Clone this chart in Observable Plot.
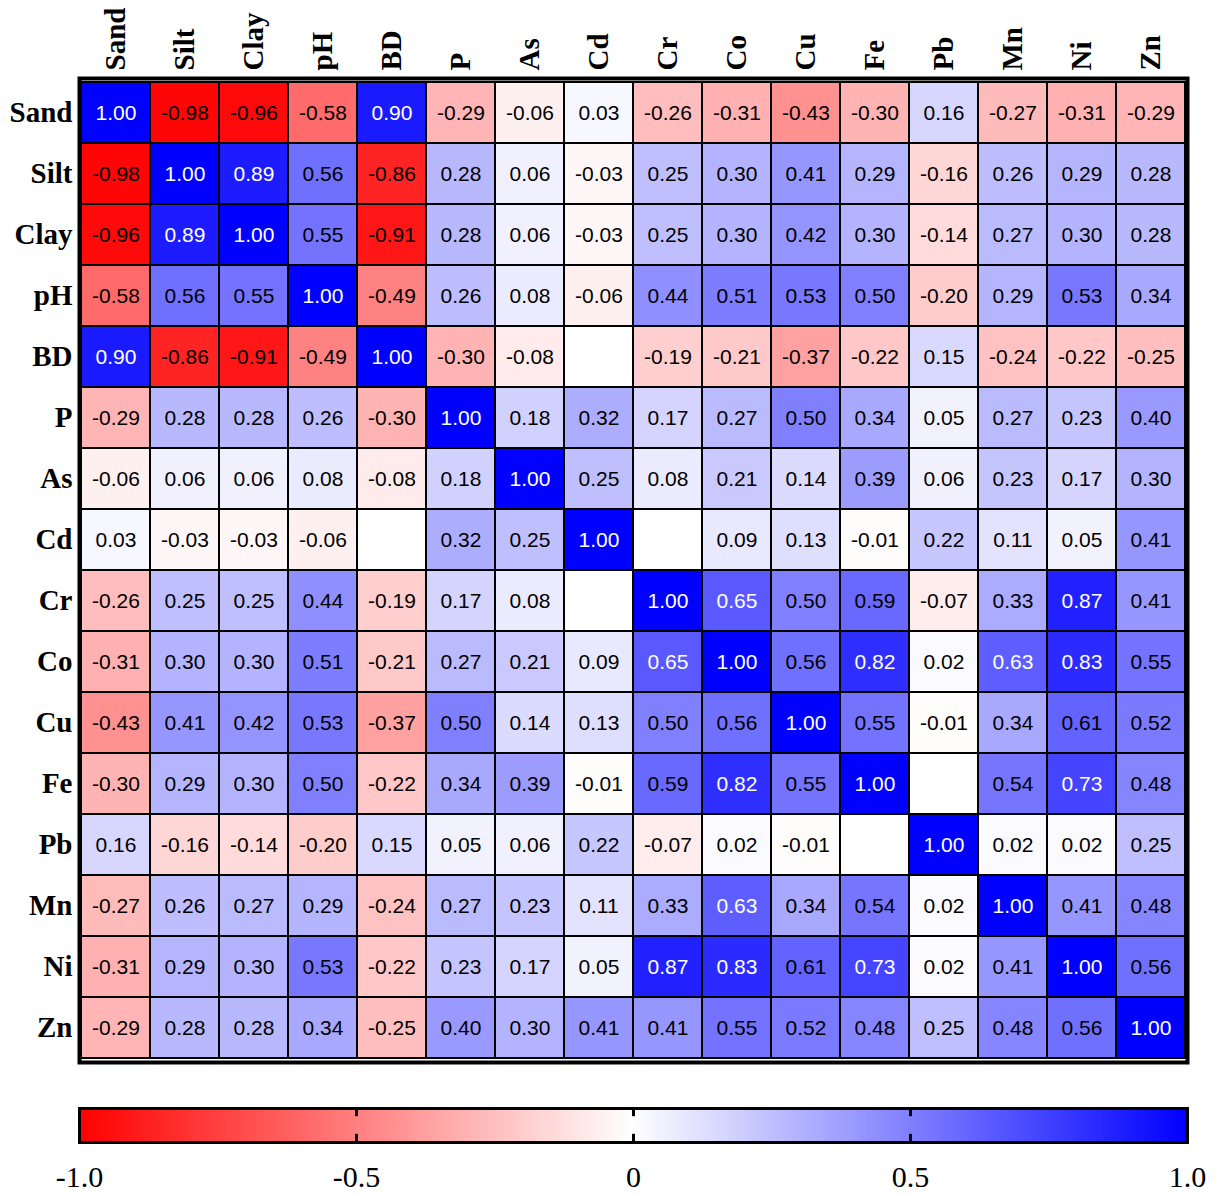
<!DOCTYPE html>
<html>
<head>
<meta charset="utf-8">
<script src="https://cdn.jsdelivr.net/npm/d3@7"></script>
<script src="https://cdn.jsdelivr.net/npm/@observablehq/plot@0.6"></script>
<style>
  html, body { margin: 0; padding: 0; background: #fff; }
  #chart svg { display: block; }
  .hm text { font-family: "Liberation Sans", Arial, sans-serif; }
  .hm g[aria-label="x-axis tick label"] text,
  .hm g[aria-label="y-axis tick label"] text { font-family: "Liberation Serif", "Times New Roman", serif; font-weight: bold; }
  .cb g[aria-label="x-axis tick label"] text { font-family: "Liberation Serif", "Times New Roman", serif; }
</style>
</head>
<body>
<div id="chart"></div>
<script>
const variables = ["Sand","Silt","Clay","pH","BD","P","As","Cd","Cr","Co","Cu","Fe","Pb","Mn","Ni","Zn"];
const rowSand = [1.00,-0.98,-0.96,-0.58,0.90,-0.29,-0.06,0.03,-0.26,-0.31,-0.43,-0.30,0.16,-0.27,-0.31,-0.29];
const rowSilt = [-0.98,1.00,0.89,0.56,-0.86,0.28,0.06,-0.03,0.25,0.30,0.41,0.29,-0.16,0.26,0.29,0.28];
const rowClay = [-0.96,0.89,1.00,0.55,-0.91,0.28,0.06,-0.03,0.25,0.30,0.42,0.30,-0.14,0.27,0.30,0.28];
const rowPH   = [-0.58,0.56,0.55,1.00,-0.49,0.26,0.08,-0.06,0.44,0.51,0.53,0.50,-0.20,0.29,0.53,0.34];
const rowBD   = [0.90,-0.86,-0.91,-0.49,1.00,-0.30,-0.08,null,-0.19,-0.21,-0.37,-0.22,0.15,-0.24,-0.22,-0.25];
const rowP    = [-0.29,0.28,0.28,0.26,-0.30,1.00,0.18,0.32,0.17,0.27,0.50,0.34,0.05,0.27,0.23,0.40];
const rowAs   = [-0.06,0.06,0.06,0.08,-0.08,0.18,1.00,0.25,0.08,0.21,0.14,0.39,0.06,0.23,0.17,0.30];
const rowCd   = [0.03,-0.03,-0.03,-0.06,null,0.32,0.25,1.00,null,0.09,0.13,-0.01,0.22,0.11,0.05,0.41];
const rowCr   = [-0.26,0.25,0.25,0.44,-0.19,0.17,0.08,null,1.00,0.65,0.50,0.59,-0.07,0.33,0.87,0.41];
const rowCo   = [-0.31,0.30,0.30,0.51,-0.21,0.27,0.21,0.09,0.65,1.00,0.56,0.82,0.02,0.63,0.83,0.55];
const rowCu   = [-0.43,0.41,0.42,0.53,-0.37,0.50,0.14,0.13,0.50,0.56,1.00,0.55,-0.01,0.34,0.61,0.52];
const rowFe   = [-0.30,0.29,0.30,0.50,-0.22,0.34,0.39,-0.01,0.59,0.82,0.55,1.00,null,0.54,0.73,0.48];
const rowPb   = [0.16,-0.16,-0.14,-0.20,0.15,0.05,0.06,0.22,-0.07,0.02,-0.01,null,1.00,0.02,0.02,0.25];
const rowMn   = [-0.27,0.26,0.27,0.29,-0.24,0.27,0.23,0.11,0.33,0.63,0.34,0.54,0.02,1.00,0.41,0.48];
const rowNi   = [-0.31,0.29,0.30,0.53,-0.22,0.23,0.17,0.05,0.87,0.83,0.61,0.73,0.02,0.41,1.00,0.56];
const rowZn   = [-0.29,0.28,0.28,0.34,-0.25,0.40,0.30,0.41,0.41,0.55,0.52,0.48,0.25,0.48,0.56,1.00];
const rows = [rowSand,rowSilt,rowClay,rowPH,rowBD,rowP,rowAs,rowCd,rowCr,rowCo,rowCu,rowFe,rowPb,rowMn,rowNi,rowZn];
const colorbarTicks = [-1, -0.5, 0, 0.5, 1];
const colorbarTickLabels = ["-1.0", "-0.5", "0", "0.5", "1.0"];

const cells = [];
rows.forEach((r, i) => r.forEach((v, j) => cells.push({row: variables[i], col: variables[j], v})));

const colorScale = {type: "linear", domain: [-1, 0, 1], range: ["#ff0000", "#ffffff", "#0000ff"], interpolate: "rgb"};

const heat = Plot.plot({
  width: 1219,
  height: 1075,
  marginLeft: 79,
  marginRight: 32,
  marginTop: 78,
  marginBottom: 13,
  className: "hm",
  style: {background: "white", overflow: "visible"},
  x: {domain: variables, padding: 0, axis: null},
  y: {domain: variables, padding: 0, axis: null},
  color: colorScale,
  marks: [
    Plot.cell(cells, {x: "col", y: "row", fill: d => d.v ?? 0, stroke: "black", strokeWidth: 2}),
    Plot.text(cells.filter(d => d.v != null), {
      x: "col", y: "row", text: d => d.v.toFixed(2),
      fill: d => d.v >= 0.62 ? "white" : "black",
      fontSize: 21
    }),
    Plot.axisX({anchor: "top", tickSize: 0, tickPadding: 8, tickRotate: -90, fontSize: 29, label: null}),
    Plot.axisY({anchor: "left", tickSize: 0, tickPadding: 7, fontSize: 29, label: null}),
    Plot.frame({stroke: "black", strokeWidth: 4})
  ]
});

const step = 0.004;
const grad = d3.range(-1, 1, step);
const bar = Plot.plot({
  width: 1219,
  height: 120,
  marginLeft: 79,
  marginRight: 32,
  marginTop: 33,
  marginBottom: 53,
  className: "cb",
  style: {background: "white", overflow: "visible"},
  x: {domain: [-1, 1], axis: null},
  y: {domain: [0, 1], axis: null},
  color: colorScale,
  marks: [
    Plot.rectY(grad, {x1: d => d, x2: d => Math.min(1, d + step * 1.6), y1: 0, y2: 1, fill: d => d + step / 2, shapeRendering: "crispEdges"}),
    Plot.ruleX([-0.5, 0, 0.5], {y1: 1, y2: 0.76, stroke: "black", strokeWidth: 3}),
    Plot.ruleX([-0.5, 0, 0.5], {y1: 0, y2: 0.24, stroke: "black", strokeWidth: 3}),
    Plot.frame({stroke: "black", strokeWidth: 3}),
    Plot.axisX(colorbarTicks, {anchor: "bottom", tickSize: 0, tickPadding: 23, fontSize: 30, label: null,
      tickFormat: (d, i) => colorbarTickLabels[i]})
  ]
});

document.getElementById("chart").append(heat, bar);
</script>
</body>
</html>
